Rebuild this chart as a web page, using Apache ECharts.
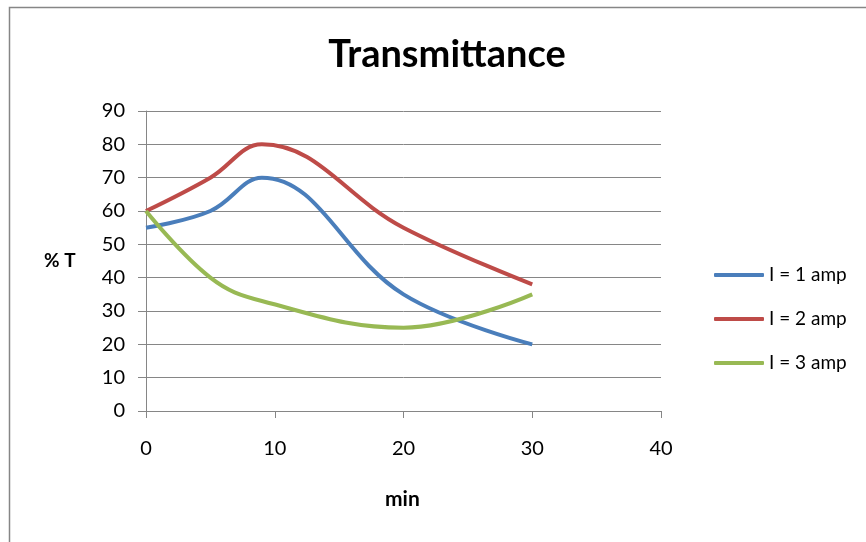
<!DOCTYPE html>
<html><head><meta charset="utf-8">
<script src="https://cdn.jsdelivr.net/npm/echarts@6/dist/echarts.min.js"></script>
<style>html,body{margin:0;padding:0;background:#fff}#c{width:866px;height:542px}</style>
</head><body><div id="c"></div>
<script>
const times = [0, 5, 9, 20, 30];
const amp1 = [55, 60, 70, 35, 20];
const amp2 = [60, 70, 80, 55, 38];
const amp3 = [60, 40, 33, 25, 35];
const seriesNames = ['I = 1 amp', 'I = 2 amp', 'I = 3 amp'];
const colors = ['#4A7EBB', '#BE4B48', '#98B954'];
const FONT = 'Lato, "Liberation Sans", sans-serif';

const chart = echarts.init(document.getElementById('c'));
const allData = [amp1, amp2, amp3];
chart.setOption({
  animation: false,
  backgroundColor: '#fff',
  title: {
    text: 'Transmittance', left: 442, top: 31, textAlign: 'center',
    textStyle: { fontFamily: FONT, fontSize: 38, fontWeight: 'bold', color: '#000' }
  },
  graphic: [
    { type: 'rect', shape: { x: 9.5, y: 7.5, width: 870, height: 545 },
      style: { fill: 'none', stroke: '#868686', lineWidth: 1.5 }, silent: true },
    { type: 'text', left: 44, top: 251,
      style: { text: '% T', fontFamily: FONT, fontSize: 19, fontWeight: 'bold', fill: '#000' } },
    { type: 'text', left: 385, top: 489,
      style: { text: 'min', fontFamily: FONT, fontSize: 21, fontWeight: 'bold', fill: '#000' } }
  ],
  grid: { left: 146, right: 205, top: 111, bottom: 131 },
  legend: {
    orient: 'vertical', left: 709, top: 260, itemGap: 24,
    itemWidth: 50, itemHeight: 4, icon: 'roundRect',
    textStyle: { fontFamily: FONT, fontSize: 19, color: '#000', lineHeight: 20 },
    data: seriesNames
  },
  xAxis: {
    type: 'value', min: 0, max: 40, interval: 10,
    axisLine: { lineStyle: { color: '#868686' } },
    axisTick: { show: true, length: 7, inside: false, lineStyle: { color: '#868686' } },
    splitLine: { show: false },
    axisLabel: { fontFamily: FONT, fontSize: 20, color: '#000', margin: 28 }
  },
  yAxis: {
    type: 'value', min: 0, max: 90, interval: 10,
    axisLine: { show: true, lineStyle: { color: '#868686' } },
    axisTick: { show: true, length: 8, lineStyle: { color: '#868686' } },
    splitLine: { show: true, lineStyle: { color: '#868686', width: 1 } },
    axisLabel: { fontFamily: FONT, fontSize: 20, color: '#000', margin: 21 }
  },
  series: seriesNames.map((n, i) => ({
    name: n, type: 'line', smooth: 0.4, symbol: 'none',
    data: times.map((t, j) => [t, allData[i][j]]),
    lineStyle: { color: colors[i], width: 4 },
    itemStyle: { color: colors[i] }
  }))
});
</script></body></html>
